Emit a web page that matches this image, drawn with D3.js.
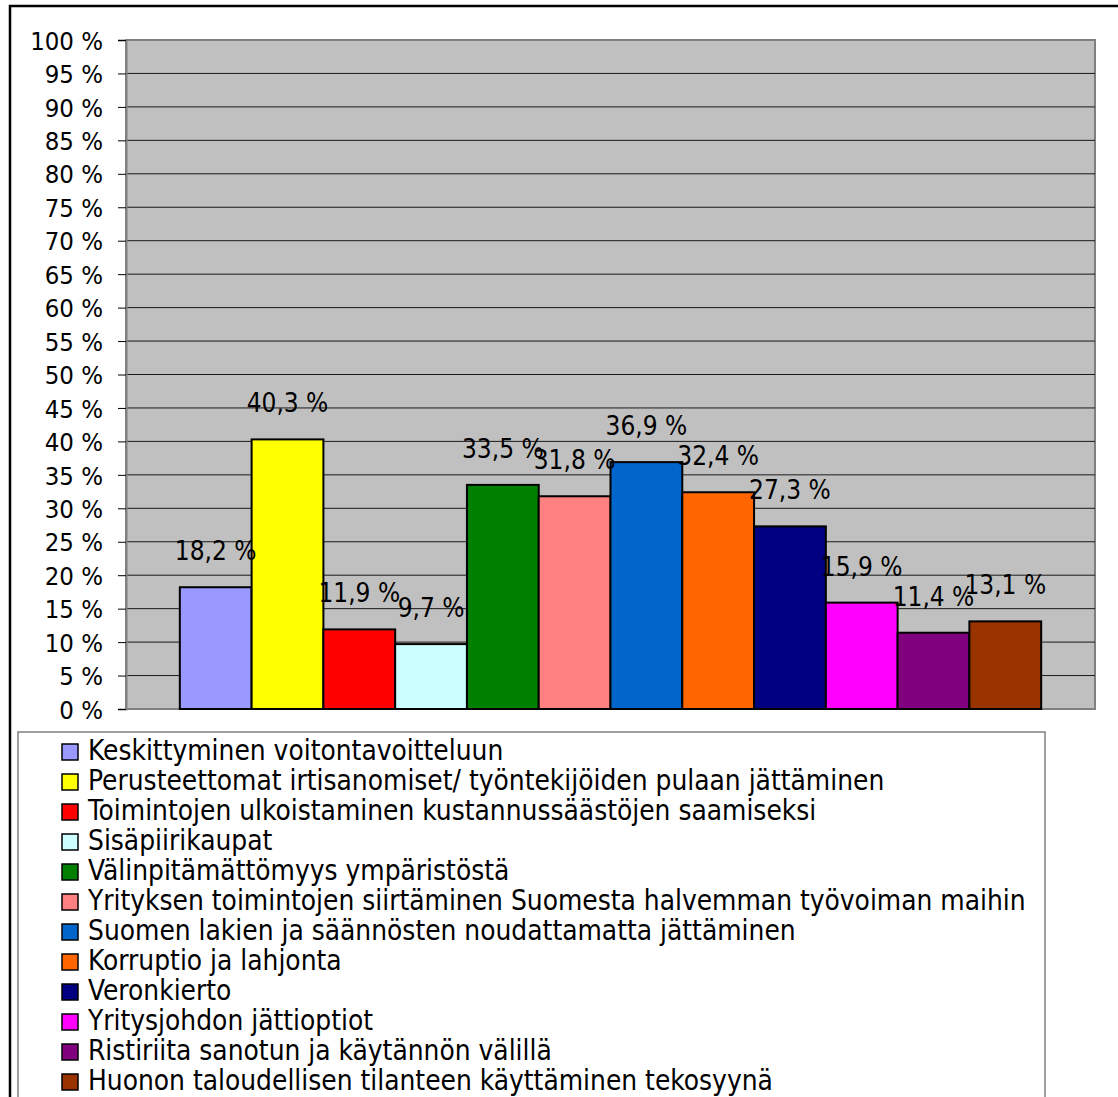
<!DOCTYPE html>
<html>
<head>
<meta charset="utf-8">
<script src="https://cdn.jsdelivr.net/npm/d3@7"></script>
<style>
  html, body { margin: 0; padding: 0; background: #fff; }
  svg { display: block; }
  text { font-family: "DejaVu Sans Condensed", "DejaVu Sans", sans-serif; fill: #000; }
</style>
</head>
<body>
<svg id="chart" width="1118" height="1097"></svg>
<script>
// Survey answers: share of respondents (%) per item
const categories = [
  "Keskittyminen voitontavoitteluun",
  "Perusteettomat irtisanomiset/ työntekijöiden pulaan jättäminen",
  "Toimintojen ulkoistaminen kustannussäästöjen saamiseksi",
  "Sisäpiirikaupat",
  "Välinpitämättömyys ympäristöstä",
  "Yrityksen toimintojen siirtäminen Suomesta halvemman työvoiman maihin",
  "Suomen lakien ja säännösten noudattamatta jättäminen",
  "Korruptio ja lahjonta",
  "Veronkierto",
  "Yritysjohdon jättioptiot",
  "Ristiriita sanotun ja käytännön välillä",
  "Huonon taloudellisen tilanteen käyttäminen tekosyynä"
];
const values = [18.2, 40.3, 11.9, 9.7, 33.5, 31.8, 36.9, 32.4, 27.3, 15.9, 11.4, 13.1];
const colors = ["#9999FF", "#FFFF00", "#FF0000", "#CCFFFF", "#008000", "#FF8080",
                "#0066CC", "#FF6600", "#000080", "#FF00FF", "#800080", "#993300"];
const yTicks = d3.range(0, 101, 5);

const svg = d3.select("#chart");
const fmt = v => d3.format(".1f")(v).replace(".", ",") + " %";

// Outer frame
svg.append("rect")
  .attr("x", 10).attr("y", 6).attr("width", 1120).attr("height", 1110)
  .attr("fill", "#fff").attr("stroke", "#000").attr("stroke-width", 2.5);

const plot = { left: 126, right: 1095, top: 40, bottom: 709 };

const y = d3.scaleLinear().domain([0, 100]).range([plot.bottom, plot.top]);
const x = d3.scaleBand()
  .domain(d3.range(values.length))
  .range([plot.left, plot.right])
  .paddingInner(0)
  .paddingOuter(0.75);

// Plot background
svg.append("rect")
  .attr("x", plot.left).attr("y", plot.top)
  .attr("width", plot.right - plot.left).attr("height", plot.bottom - plot.top)
  .attr("fill", "#C0C0C0").attr("stroke", "#808080").attr("stroke-width", 2);

// Gridlines
svg.append("g")
  .selectAll("line")
  .data(yTicks.filter(t => t > 0 && t < 100))
  .join("line")
  .attr("x1", plot.left).attr("x2", plot.right)
  .attr("y1", d => y(d)).attr("y2", d => y(d))
  .attr("stroke", "#1a1a1a").attr("stroke-width", 1);

// Y axis
const yAxis = d3.axisLeft(y)
  .tickValues(yTicks)
  .tickSize(8)
  .tickPadding(15)
  .tickFormat(d => d + " %");
const gy = svg.append("g")
  .attr("transform", `translate(${plot.left},0)`)
  .call(yAxis);
gy.select(".domain").attr("stroke", "#808080").attr("stroke-width", 2);
gy.selectAll(".tick line").attr("stroke", "#000");
gy.selectAll(".tick text")
  .attr("font-size", 25.5)
  .attr("dy", "0.36em")
  .attr("font-family", "DejaVu Sans Condensed, DejaVu Sans, sans-serif")
  .attr("fill", "#000");

// X baseline
svg.append("line")
  .attr("x1", plot.left).attr("x2", plot.right)
  .attr("y1", plot.bottom).attr("y2", plot.bottom)
  .attr("stroke", "#808080").attr("stroke-width", 2);

// Bars
svg.append("g")
  .selectAll("rect")
  .data(values)
  .join("rect")
  .attr("x", (d, i) => x(i))
  .attr("y", d => y(d))
  .attr("width", x.bandwidth())
  .attr("height", d => y(0) - y(d))
  .attr("fill", (d, i) => colors[i])
  .attr("stroke", "#000").attr("stroke-width", 2);

// Value labels
svg.append("g")
  .selectAll("text")
  .data(values)
  .join("text")
  .attr("x", (d, i) => x(i) + x.bandwidth() / 2)
  .attr("y", d => y(d) - 27)
  .attr("text-anchor", "middle")
  .attr("font-size", 26)
  .text(d => fmt(d));

// Legend
const legend = svg.append("g");
legend.append("rect")
  .attr("x", 18).attr("y", 732).attr("width", 1027).attr("height", 400)
  .attr("fill", "#fff").attr("stroke", "#808080").attr("stroke-width", 1.5);

const rowY = i => 760 + i * 30;
const items = legend.selectAll("g.item")
  .data(categories)
  .join("g").attr("class", "item");
items.append("rect")
  .attr("x", 62).attr("y", (d, i) => rowY(i) - 16)
  .attr("width", 16).attr("height", 16)
  .attr("fill", (d, i) => colors[i])
  .attr("stroke", "#000").attr("stroke-width", 1.5);
items.append("text")
  .attr("x", 88).attr("y", (d, i) => rowY(i))
  .attr("font-size", 27.8)
  .text(d => d);
</script>
</body>
</html>
